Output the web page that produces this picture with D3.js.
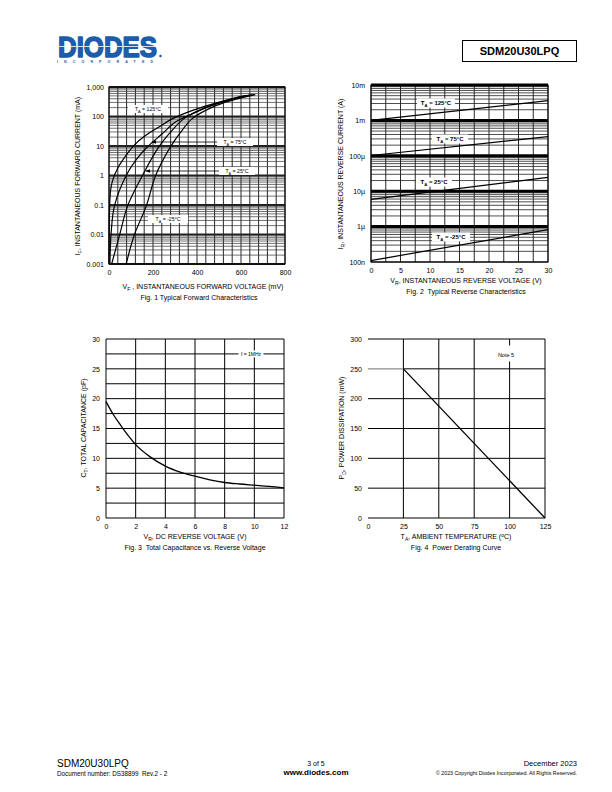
<!DOCTYPE html>
<html><head><meta charset="utf-8">
<script src="https://cdn.jsdelivr.net/npm/d3@7"></script>
<style>body{margin:0;background:#fff}svg{display:block}text{font-family:"Liberation Sans",Arial,sans-serif;fill:#000;white-space:pre}</style>
</head><body>
<svg id="page" width="612" height="792"></svg>
<script>
// ---------- DATA ----------
// Fig 1: forward characteristics (VF in mV, IF in mA)
const f1Ticks = [0.001, 0.01, 0.1, 1, 10, 100, 1000];
const f1TickLabels = ["0.001", "0.01", "0.1", "1", "10", "100", "1,000"];
const f1XTicks = [0, 200, 400, 600, 800];
const f1_125_V = [0, 3, 8, 18, 40, 63, 115, 167, 227, 287, 377, 481, 594, 640];
const f1_125_I = [0.001, 0.095, 0.35, 0.74, 1.8, 3.4, 10.7, 23, 44, 83, 158, 278, 465, 520];
const f1_75_V = [4, 10, 25, 78, 123, 175, 242, 302, 377, 481, 594, 650];
const f1_75_I = [0.001, 0.012, 0.095, 1.0, 3.4, 9.4, 26, 65, 122, 264, 465, 540];
const f1_25_V = [12, 48, 85, 152, 227, 287, 339, 407, 496, 616, 660];
const f1_25_I = [0.001, 0.0095, 0.095, 1.0, 9.5, 34, 83, 158, 278, 490, 545];
const f1_m25_V = [78, 115, 170, 212, 280, 332, 377, 437, 526, 665];
const f1_m25_I = [0.001, 0.0096, 0.095, 1.0, 9.5, 34, 83, 158, 300, 550];
// Fig 2: reverse characteristics (VR in V, IR in A)
const f2Ticks = [1e-7, 1e-6, 1e-5, 1e-4, 1e-3, 1e-2];
const f2TickLabels = ["100n", "1\u00b5", "10\u00b5", "100\u00b5", "1m", "10m"];
const f2XTicks = [0, 5, 10, 15, 20, 25, 30];
const f2V = [0, 30];
const f2_125 = [1.0e-3, 3.6e-3];
const f2_75 = [1.02e-4, 3.5e-4];
const f2_25 = [5.9e-6, 2.45e-5];
const f2_m25 = [1.1e-7, 8.2e-7];
// Fig 3: capacitance (VR in V, CT in pF)
const f3V = [0, 0.5, 1, 1.5, 2, 3, 4, 5, 6, 7, 8, 9, 10, 11, 12];
const f3C = [19.5, 17.3, 15.5, 13.8, 12.3, 10.2, 8.7, 7.7, 7.0, 6.4, 5.95, 5.7, 5.5, 5.3, 5.05];
const f3XTicks = [0, 2, 4, 6, 8, 10, 12];
const f3YTicks = [0, 5, 10, 15, 20, 25, 30];
// Fig 4: power derating (TA in °C, PD in mW)
const f4T = [0, 25, 125];
const f4P = [250, 250, 0];
const f4XTicks = [0, 25, 50, 75, 100, 125];
const f4YTicks = [0, 50, 100, 150, 200, 250, 300];

// ---------- HELPERS ----------
const svg = d3.select("#page");
const FS = 7;
function richText(g, parts, attrs) {
  const t = g.append("text");
  Object.entries(attrs).forEach(([k, v]) => t.attr(k, v));
  let off = 0;
  parts.forEach(p => {
    if (typeof p === "string") { t.append("tspan").attr("dy", -off).text(p); off = 0; }
    else if (p.sub) { const d = 1.8; t.append("tspan").attr("dy", d - off).attr("font-size", p.fs || 5).text(p.sub); off = d; }
    else if (p.sup) { const d = -2.5; t.append("tspan").attr("dy", d - off).attr("font-size", p.fs || 5).text(p.sup); off = d; }
  });
  return t;
}
function box(g, cx, cy, w, h) {
  g.append("rect").attr("x", cx - w / 2).attr("y", cy - h / 2).attr("width", w).attr("height", h).attr("fill", "#fff");
}
function minorLog(lo, hi) {
  const out = [];
  for (let e = Math.log10(lo); e < Math.log10(hi) - 1e-9; e++) for (let k = 2; k <= 9; k++) out.push(k * Math.pow(10, e));
  return out;
}

// ---------- HEADER ----------
{
  const logo = svg.append("text").attr("font-family", "DejaVu Sans").attr("font-weight", 700).attr("font-size", 30).style("fill", "#1d5ca8");
  logo.append("tspan").attr("x", 58).attr("y", 56.5).attr("textLength", 99).attr("lengthAdjust", "spacingAndGlyphs")
    .attr("stroke", "#1d5ca8").attr("stroke-width", 1.6).attr("stroke-linejoin", "round").text("DIODES");
  logo.append("tspan").attr("x", 57).attr("y", 62.5).attr("font-size", 3.6).attr("font-family", "Liberation Sans")
    .attr("textLength", 96).attr("lengthAdjust", "spacing").text("INCORPORATED");
  svg.append("rect").attr("x", 56).attr("y", 46.2).attr("width", 104).attr("height", 0.8).attr("fill", "#fff");
  svg.append("circle").attr("cx", 160.5).attr("cy", 56).attr("r", 1.3).attr("fill", "#1d5ca8");
}
svg.append("rect").attr("x", 462.5).attr("y", 40.5).attr("width", 114).attr("height", 21).attr("fill", "none").attr("stroke", "#000").attr("stroke-width", 1);
svg.append("text").attr("x", 519.5).attr("y", 55).attr("text-anchor", "middle").attr("font-size", 11).attr("font-weight", 700).text("SDM20U30LPQ");

// ---------- FIG 1 ----------
{
  const g = svg.append("g");
  const x = d3.scaleLinear().domain([0, 800]).range([109, 285]);
  const y = d3.scaleLog().domain([0.001, 1000]).range([264, 87]);
  g.selectAll(".v").data(d3.range(0, 801, 40)).join("line")
    .attr("x1", d => x(d)).attr("x2", d => x(d)).attr("y1", y(1000)).attr("y2", y(0.001))
    .attr("stroke", "#111").attr("stroke-width", 0.9);
  g.selectAll(".hm").data(minorLog(0.001, 1000)).join("line")
    .attr("x1", x(0)).attr("x2", x(800)).attr("y1", d => y(d)).attr("y2", d => y(d))
    .attr("stroke", "#333").attr("stroke-width", 0.7);
  g.selectAll(".hd").data(f1Ticks).join("line")
    .attr("x1", x(0)).attr("x2", x(800)).attr("y1", d => y(d)).attr("y2", d => y(d))
    .attr("stroke", "#222").attr("stroke-width", 2.2);
  g.append("rect").attr("x", x(0)).attr("y", y(1000)).attr("width", x(800) - x(0)).attr("height", y(0.001) - y(1000))
    .attr("fill", "none").attr("stroke", "#000").attr("stroke-width", 1);
  const yAx = d3.axisLeft(y).tickValues(f1Ticks).tickFormat((d, i) => f1TickLabels[i]).tickSize(0).tickPadding(5);
  const ya = g.append("g").attr("transform", `translate(${x(0)},0)`).call(yAx);
  const xAx = d3.axisBottom(x).tickValues(f1XTicks).tickSize(0).tickPadding(6);
  const xa = g.append("g").attr("transform", `translate(0,${y(0.001)})`).call(xAx);
  [ya, xa].forEach(a => { a.select(".domain").remove(); a.attr("font-size", FS).attr("font-family", "Liberation Sans"); a.selectAll("text").attr("font-size", FS); });
  const line = d3.line().x(d => x(d[0])).y(d => y(d[1])).curve(d3.curveCatmullRom.alpha(0.5));
  const series = [[f1_125_V, f1_125_I], [f1_75_V, f1_75_I], [f1_25_V, f1_25_I], [f1_m25_V, f1_m25_I]];
  series.forEach(([v, i]) => {
    g.append("path").attr("d", line(d3.zip(v, i))).attr("fill", "none").attr("stroke", "#000").attr("stroke-width", 1.2);
  });
  const lab = (cx, cy, w, t) => { box(g, cx, cy, w, 8); richText(g, ["T", { sub: "A", fs: 3.8 }, " = " + t], { x: cx, y: cy + 1.8, "text-anchor": "middle", "font-size": 5.2 }); };
  lab(148, 109, 40, "125\u00b0C");
  lab(235, 142, 36, "75\u00b0C");
  lab(237, 171, 36, "25\u00b0C");
  lab(168, 219, 40, "-25\u00b0C");
  g.append("defs").html('<marker id="ah" viewBox="0 0 10 10" refX="10" refY="5" markerWidth="6" markerHeight="6" orient="auto"><path d="M0,1 L10,5 L0,9 z" fill="#000"/></marker>');
  g.append("line").attr("x1", 217).attr("x2", x(194)).attr("y1", 142).attr("y2", 142).attr("stroke", "#000").attr("stroke-width", 0.8).attr("marker-end", "url(#ah)");
  g.append("line").attr("x1", 219).attr("x2", x(166)).attr("y1", 171).attr("y2", 171).attr("stroke", "#000").attr("stroke-width", 0.8).attr("marker-end", "url(#ah)");
  richText(g, ["I", { sub: "F" }, ", INSTANTANEOUS FORWARD CURRENT (mA)"], { transform: "translate(80,176) rotate(-90)", "text-anchor": "middle", "font-size": FS });
  richText(g, ["V", { sub: "F" }, " , INSTANTANEOUS FORWARD VOLTAGE (mV)"], { x: 203, y: 289, "text-anchor": "middle", "font-size": FS });
  g.append("text").attr("x", 199).attr("y", 300).attr("text-anchor", "middle").attr("font-size", FS).text("Fig. 1 Typical Forward Characteristics");
}

// ---------- FIG 2 ----------
{
  const g = svg.append("g");
  const x = d3.scaleLinear().domain([0, 30]).range([371, 548]);
  const y = d3.scaleLog().domain([1e-7, 1e-2]).range([262, 85]);
  g.selectAll(".v").data(d3.range(0, 30.1, 2.5)).join("line")
    .attr("x1", d => x(d)).attr("x2", d => x(d)).attr("y1", y(1e-2)).attr("y2", y(1e-7))
    .attr("stroke", "#111").attr("stroke-width", 0.9);
  g.selectAll(".hm").data(minorLog(1e-7, 1e-2)).join("line")
    .attr("x1", x(0)).attr("x2", x(30)).attr("y1", d => y(d)).attr("y2", d => y(d))
    .attr("stroke", "#222").attr("stroke-width", 0.8);
  g.selectAll(".hd").data(f2Ticks).join("line")
    .attr("x1", x(0)).attr("x2", x(30)).attr("y1", d => y(d)).attr("y2", d => y(d))
    .attr("stroke", "#000").attr("stroke-width", d => (d === 1e-7 ? 1 : 3));
  g.append("rect").attr("x", x(0)).attr("y", y(1e-2)).attr("width", x(30) - x(0)).attr("height", y(1e-7) - y(1e-2))
    .attr("fill", "none").attr("stroke", "#000").attr("stroke-width", 1);
  const yAx = d3.axisLeft(y).tickValues(f2Ticks).tickFormat((d, i) => f2TickLabels[i]).tickSize(0).tickPadding(6);
  const ya = g.append("g").attr("transform", `translate(${x(0)},0)`).call(yAx);
  const xAx = d3.axisBottom(x).tickValues(f2XTicks).tickSize(0).tickPadding(6);
  const xa = g.append("g").attr("transform", `translate(0,${y(1e-7)})`).call(xAx);
  [ya, xa].forEach(a => { a.select(".domain").remove(); a.attr("font-size", FS).attr("font-family", "Liberation Sans"); a.selectAll("text").attr("font-size", FS); });
  const line = d3.line().x(d => x(d[0])).y(d => y(d[1]));
  [f2_125, f2_75, f2_25, f2_m25].forEach(s => {
    g.append("path").attr("d", line(d3.zip(f2V, s))).attr("fill", "none").attr("stroke", "#000").attr("stroke-width", 1.2);
  });
  const lab = (cx, cy, w, t) => { box(g, cx, cy, w, 9); richText(g, ["T", { sub: "A", fs: 4.2 }, " = " + t], { x: cx, y: cy + 2, "text-anchor": "middle", "font-size": 6, "font-weight": 700 }); };
  lab(436, 103, 38, "125\u00b0C");
  lab(450, 139, 36, "75\u00b0C");
  lab(434, 182, 36, "25\u00b0C");
  lab(451, 237, 38, "-25\u00b0C");
  richText(g, ["I", { sub: "R" }, ", INSTANTANEOUS REVERSE CURRENT (A)"], { transform: "translate(343,174) rotate(-90)", "text-anchor": "middle", "font-size": FS });
  richText(g, ["V", { sub: "R" }, ", INSTANTANEOUS REVERSE VOLTAGE (V)"], { x: 466, y: 283, "text-anchor": "middle", "font-size": FS });
  g.append("text").attr("x", 466).attr("y", 294).attr("text-anchor", "middle").attr("font-size", FS).text("Fig. 2  Typical Reverse Characteristics");
}

// ---------- FIG 3 ----------
{
  const g = svg.append("g");
  const x = d3.scaleLinear().domain([0, 12]).range([106, 284]);
  const y = d3.scaleLinear().domain([0, 30]).range([518, 339]);
  g.selectAll(".v").data(d3.range(0, 12.1, 2)).join("line")
    .attr("x1", d => x(d)).attr("x2", d => x(d)).attr("y1", y(30)).attr("y2", y(0))
    .attr("stroke", "#000").attr("stroke-width", 1);
  g.selectAll(".h").data(d3.range(0, 30.1, 2.5)).join("line")
    .attr("x1", x(0)).attr("x2", x(12)).attr("y1", d => y(d)).attr("y2", d => y(d))
    .attr("stroke", "#000").attr("stroke-width", 1);
  const yAx = d3.axisLeft(y).tickValues(f3YTicks).tickSize(0).tickPadding(6);
  const ya = g.append("g").attr("transform", `translate(${x(0)},0)`).call(yAx);
  const xAx = d3.axisBottom(x).tickValues(f3XTicks).tickSize(0).tickPadding(6);
  const xa = g.append("g").attr("transform", `translate(0,${y(0)})`).call(xAx);
  [ya, xa].forEach(a => { a.select(".domain").remove(); a.attr("font-size", FS).attr("font-family", "Liberation Sans"); a.selectAll("text").attr("font-size", FS); });
  const line = d3.line().x(d => x(d[0])).y(d => y(d[1])).curve(d3.curveMonotoneX);
  g.append("path").attr("d", line(d3.zip(f3V, f3C))).attr("fill", "none").attr("stroke", "#000").attr("stroke-width", 1.3);
  box(g, 251, y(27.5), 25, 7);
  g.append("text").attr("x", 251).attr("y", y(27.5) + 1.8).attr("text-anchor", "middle").attr("font-size", 5).text("f = 1MHz");
  richText(g, ["C", { sub: "T" }, ", TOTAL CAPACITANCE (pF)"], { transform: "translate(86,428) rotate(-90)", "text-anchor": "middle", "font-size": FS });
  richText(g, ["V", { sub: "R" }, ", DC REVERSE VOLTAGE (V)"], { x: 195, y: 539, "text-anchor": "middle", "font-size": FS });
  g.append("text").attr("x", 195).attr("y", 550).attr("text-anchor", "middle").attr("font-size", FS).text("Fig. 3  Total Capacitance vs. Reverse Voltage");
}

// ---------- FIG 4 ----------
{
  const g = svg.append("g");
  const x = d3.scaleLinear().domain([0, 125]).range([368, 545]);
  const y = d3.scaleLinear().domain([0, 300]).range([518, 339]);
  g.selectAll(".v").data(d3.range(25, 125.1, 25)).join("line")
    .attr("x1", d => x(d)).attr("x2", d => x(d)).attr("y1", y(300)).attr("y2", y(0))
    .attr("stroke", "#000").attr("stroke-width", 1);
  g.selectAll(".h").data(d3.range(0, 300.1, 50)).join("line")
    .attr("x1", d => (d === 250 ? x(25) : x(0))).attr("x2", x(125)).attr("y1", d => y(d)).attr("y2", d => y(d))
    .attr("stroke", "#000").attr("stroke-width", 1);
  const yAx = d3.axisLeft(y).tickValues(f4YTicks).tickSize(0).tickPadding(6);
  const ya = g.append("g").attr("transform", `translate(${x(0)},0)`).call(yAx);
  const xAx = d3.axisBottom(x).tickValues(f4XTicks).tickSize(0).tickPadding(6);
  const xa = g.append("g").attr("transform", `translate(0,${y(0)})`).call(xAx);
  [ya, xa].forEach(a => { a.select(".domain").remove(); a.attr("font-size", FS).attr("font-family", "Liberation Sans"); a.selectAll("text").attr("font-size", FS); });
  const line = d3.line().x(d => x(d[0])).y(d => y(d[1]));
  const pts = d3.zip(f4T, f4P);
  g.append("path").attr("d", line(pts.slice(0, 2))).attr("fill", "none").attr("stroke", "#8a8a8a").attr("stroke-width", 1.2);
  g.append("path").attr("d", line(pts.slice(1))).attr("fill", "none").attr("stroke", "#000").attr("stroke-width", 1.3);
  box(g, 506, 353.5, 22, 16);
  g.append("text").attr("x", 506).attr("y", 357).attr("text-anchor", "middle").attr("font-size", 5.5).text("Note 5");
  richText(g, ["P", { sub: "D" }, ", POWER DISSIPATION (mW)"], { transform: "translate(344,428) rotate(-90)", "text-anchor": "middle", "font-size": FS });
  richText(g, ["T", { sub: "A" }, ", AMBIENT TEMPERATURE (", { sup: "o" }, "C)"], { x: 456, y: 539, "text-anchor": "middle", "font-size": FS });
  g.append("text").attr("x", 456).attr("y", 550).attr("text-anchor", "middle").attr("font-size", FS).text("Fig. 4  Power Derating Curve");
}

// ---------- FOOTER ----------
svg.append("text").attr("x", 57).attr("y", 767).attr("font-size", 10).text("SDM20U30LPQ");
svg.append("text").attr("x", 57).attr("y", 775.5).attr("font-size", 6.3).text("Document number: DS38899\u00a0\u00a0Rev.2 - 2");
svg.append("text").attr("x", 316).attr("y", 766).attr("text-anchor", "middle").attr("font-size", 7).text("3 of 5");
svg.append("text").attr("x", 316).attr("y", 775).attr("text-anchor", "middle").attr("font-size", 8).attr("font-weight", 700).text("www.diodes.com");
svg.append("text").attr("x", 577).attr("y", 766).attr("text-anchor", "end").attr("font-size", 7.5).text("December 2023");
svg.append("text").attr("x", 577).attr("y", 774.5).attr("text-anchor", "end").attr("font-size", 5.3).text("\u00a9 2023 Copyright Diodes Incorporated. All Rights Reserved.");
</script>
</body></html>
